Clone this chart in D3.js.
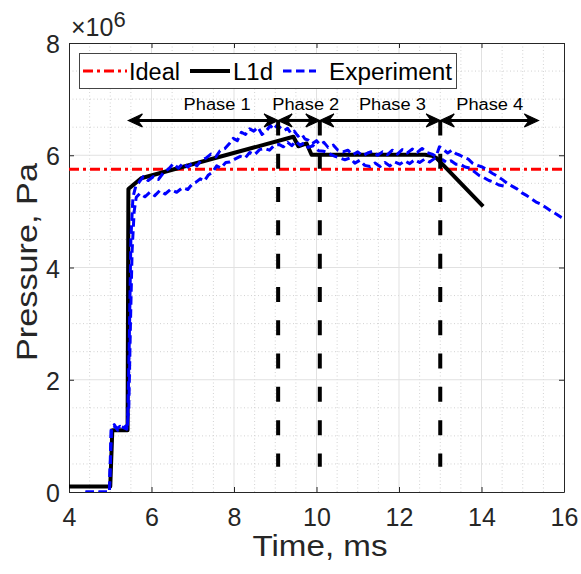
<!DOCTYPE html>
<html><head><meta charset="utf-8">
<script src="https://cdn.jsdelivr.net/npm/d3@7"></script>
<style>
html,body{margin:0;padding:0;background:#fff;}
svg{display:block;font-family:"Liberation Sans",Arial,Helvetica,sans-serif;}
</style></head><body>
<svg id="chart" width="581" height="574"></svg>
<script>
// Axis ticks
const xTicks = [4, 6, 8, 10, 12, 14, 16];
const yTicks = [0, 2, 4, 6, 8];
const minorStep = 0.5;

// Ideal pressure level (x10^6 Pa)
const idealPressure = 5.75;

// L1d model: [time ms, pressure x10^6 Pa]
const l1d = [
  [4.00, 0.10], [5.00, 0.10], [5.05, 1.10], [5.42, 1.10], [5.44, 5.40],
  [5.75, 5.59], [9.44, 6.33], [9.56, 6.16], [9.76, 6.21], [9.88, 6.01],
  [12.63, 6.01], [12.80, 5.99], [12.91, 5.95], [14.04, 5.09]
];

// Experiment, run A
const expA = [
  [4.40,0.00],[4.98,0.00],[5.02,1.10],[5.08,1.18],[5.16,1.13],[5.24,1.17],[5.32,1.14],[5.42,1.20],
  [5.46,2.60],[5.50,4.50],[5.55,5.25],[5.62,5.45],[5.70,5.52],[5.80,5.62],[5.92,5.55],[6.05,5.62],
  [6.17,5.57],[6.30,5.70],[6.42,5.76],[6.53,5.85],[6.65,5.77],[6.77,5.86],[6.88,5.79],[7.00,5.87],
  [7.10,5.81],[7.20,5.91],[7.32,5.95],[7.44,6.02],[7.56,5.97],[7.66,6.08],[7.78,6.12],[7.90,6.22],
  [7.98,6.30],[8.08,6.26],[8.18,6.41],[8.28,6.37],[8.38,6.47],[8.48,6.43],[8.58,6.50],[8.68,6.37],
  [8.79,6.44],[8.88,6.53],[8.96,6.46],[9.05,6.54],[9.14,6.48],[9.22,6.44],[9.30,6.48],[9.38,6.39],
  [9.46,6.43],[9.55,6.34],[9.64,6.38],[9.72,6.29],[9.80,6.27],[9.90,6.21],[10.00,6.26],[10.08,6.19],
  [10.18,6.23],[10.28,6.14],[10.41,6.18],[10.52,6.09],[10.64,6.06],[10.76,6.09],[10.88,6.01],[11.00,6.06],
  [11.12,5.99],[11.24,6.04],[11.36,6.07],[11.48,6.00],[11.60,6.06],[11.72,6.01],[11.84,6.09],[11.96,6.02],
  [12.08,6.10],[12.20,6.04],[12.32,6.11],[12.44,6.05],[12.56,6.12],[12.68,6.05],[12.80,6.02],[12.90,5.98],
  [12.98,6.15],[13.08,6.10],[13.18,6.04],[13.28,6.09],[13.38,6.03],[13.48,6.00],[13.58,5.96],[13.68,5.93],
  [13.78,5.86],[13.90,5.82],[14.02,5.79],[14.14,5.74],[14.26,5.68],[14.38,5.63],[14.50,5.57],[14.62,5.50],
  [14.74,5.45],[14.86,5.40],[14.98,5.33],[15.10,5.28],[15.22,5.22],[15.34,5.16],[15.46,5.12],[15.58,5.06],
  [15.70,5.00],[15.82,4.95],[15.94,4.89],[16.06,4.84]
];

// Experiment, run B
const expB = [
  [4.40,0.00],[4.98,0.00],[5.03,1.12],[5.10,1.20],[5.18,1.10],[5.28,1.16],[5.40,1.12],[5.45,1.50],
  [5.49,3.00],[5.53,4.30],[5.58,5.00],[5.63,5.25],[5.72,5.32],[5.84,5.26],[5.96,5.34],[6.08,5.28],
  [6.20,5.37],[6.33,5.31],[6.46,5.39],[6.61,5.34],[6.75,5.42],[6.88,5.39],[6.98,5.48],[7.08,5.52],
  [7.18,5.58],[7.28,5.54],[7.38,5.65],[7.48,5.70],[7.58,5.81],[7.68,5.77],[7.80,5.87],[7.90,5.88],
  [8.02,5.93],[8.15,5.98],[8.27,5.95],[8.38,6.05],[8.50,6.01],[8.62,6.10],[8.74,6.12],[8.86,6.09],
  [8.98,6.18],[9.10,6.19],[9.20,6.15],[9.30,6.23],[9.40,6.17],[9.50,6.25],[9.60,6.18],[9.70,6.22],
  [9.80,6.14],[9.92,6.17],[10.05,6.08],[10.18,6.07],[10.33,6.02],[10.45,5.98],[10.57,5.95],[10.69,5.92],
  [10.81,5.95],[10.93,5.86],[11.05,5.91],[11.17,5.82],[11.30,5.80],[11.42,5.86],[11.54,5.80],[11.66,5.87],
  [11.78,5.81],[11.90,5.88],[12.02,5.84],[12.14,5.90],[12.26,5.85],[12.38,5.92],[12.50,5.87],[12.62,5.93],
  [12.74,5.88],[12.86,5.94],[12.96,5.88],[13.06,5.92],[13.16,5.87],[13.26,5.90],[13.38,5.84],[13.48,5.84],
  [13.60,5.79],[13.72,5.77],[13.84,5.70],[13.94,5.64],[14.06,5.60],[14.18,5.55],[14.30,5.52],[14.42,5.47],
  [14.54,5.45]
];

// Phase annotations
const phaseBounds = [5.44, 9.07, 10.08, 13.0, 15.38];
const phaseNames = ["Phase 1", "Phase 2", "Phase 3", "Phase 4"];
const phaseLabelX = [7.59, 9.74, 11.84, 14.20];
const phaseLabelY = 6.80;
const arrowY = 6.62;
const dividerX = [9.07, 10.08, 13.0];
const dividerBottom = 0.45;

const legendNames = ["Ideal", "L1d", "Experiment"];

const axisColor = "#262626";
const svg = d3.select("#chart");
const x = d3.scaleLinear().domain([4, 16]).range([69, 564]);
const y = d3.scaleLinear().domain([0, 8]).range([492, 43]);
const [x0, x1] = x.range();
const [y0, y1] = y.range();

svg.append("defs").append("clipPath").attr("id", "plotClip")
  .append("rect").attr("x", x0).attr("y", y1).attr("width", x1 - x0).attr("height", y0 - y1);

// grid
const minorX = d3.range(4, 16.001, minorStep).filter(v => !xTicks.includes(v));
const minorY = d3.range(0, 8.001, minorStep).filter(v => !yTicks.includes(v));
const grid = svg.append("g");
grid.selectAll(".mx").data(minorX).join("line")
  .attr("x1", d => x(d)).attr("x2", d => x(d)).attr("y1", y0).attr("y2", y1)
  .attr("stroke", "#d2d2d2").attr("stroke-width", 1).attr("stroke-dasharray", "1,2.5");
grid.selectAll(".my").data(minorY).join("line")
  .attr("y1", d => y(d)).attr("y2", d => y(d)).attr("x1", x0).attr("x2", x1)
  .attr("stroke", "#d2d2d2").attr("stroke-width", 1).attr("stroke-dasharray", "1,2.5");
grid.selectAll(".gx").data(xTicks.slice(1, -1)).join("line")
  .attr("x1", d => x(d)).attr("x2", d => x(d)).attr("y1", y0).attr("y2", y1)
  .attr("stroke", "#e1e1e1").attr("stroke-width", 1);
grid.selectAll(".gy").data(yTicks.slice(1, -1)).join("line")
  .attr("y1", d => y(d)).attr("y2", d => y(d)).attr("x1", x0).attr("x2", x1)
  .attr("stroke", "#e1e1e1").attr("stroke-width", 1);

// axes with inward ticks on all four sides
function styleAxis(g) {
  g.selectAll("path.domain").attr("stroke", axisColor).attr("stroke-width", 1);
  g.selectAll(".tick line").attr("stroke", axisColor).attr("stroke-width", 1);
  g.selectAll("text").attr("fill", axisColor).attr("font-size", 25)
    .attr("font-family", "'Liberation Sans', Arial, sans-serif");
}
svg.append("g").attr("transform", `translate(0,${y0})`)
  .call(d3.axisBottom(x).tickValues(xTicks).tickSizeInner(-5).tickSizeOuter(0).tickPadding(16))
  .call(styleAxis);
svg.append("g").attr("transform", `translate(0,${y1})`)
  .call(d3.axisTop(x).tickValues(xTicks).tickSizeInner(-5).tickSizeOuter(0).tickFormat(""))
  .call(styleAxis);
svg.append("g").attr("transform", `translate(${x0},0)`)
  .call(d3.axisLeft(y).tickValues(yTicks).tickSizeInner(-5).tickSizeOuter(0).tickPadding(9))
  .call(styleAxis)
  .selectAll("text").attr("dy", "0.38em");
svg.append("g").attr("transform", `translate(${x1},0)`)
  .call(d3.axisRight(y).tickValues(yTicks).tickSizeInner(-5).tickSizeOuter(0).tickFormat(""))
  .call(styleAxis);

// exponent label
const expo = svg.append("text").attr("x", 71).attr("y", 36)
  .attr("font-size", 25).attr("fill", axisColor);
expo.append("tspan").text("\u00d710");
expo.append("tspan").attr("font-size", 22).attr("dy", -9).text("6");

// axis titles
svg.append("text").attr("transform", `translate(37,262) rotate(-90)`)
  .attr("text-anchor", "middle").attr("font-size", 30).attr("fill", axisColor)
  .attr("textLength", 198).attr("lengthAdjust", "spacingAndGlyphs")
  .text("Pressure, Pa");
svg.append("text").attr("x", 320).attr("y", 556)
  .attr("text-anchor", "middle").attr("font-size", 29).attr("fill", axisColor)
  .attr("textLength", 135).attr("lengthAdjust", "spacingAndGlyphs")
  .text("Time, ms");

// data
const plot = svg.append("g").attr("clip-path", "url(#plotClip)");
const line = d3.line().x(d => x(d[0])).y(d => y(d[1]));

plot.append("line").attr("x1", x0).attr("x2", x1)
  .attr("y1", y(idealPressure)).attr("y2", y(idealPressure))
  .attr("stroke", "#ff0000").attr("stroke-width", 3).attr("stroke-dasharray", "10,4,3,4");

plot.append("path").datum(l1d).attr("d", line)
  .attr("fill", "none").attr("stroke", "#000").attr("stroke-width", 4)
  .attr("stroke-linejoin", "round");

[expA, expB].forEach(run => {
  plot.append("path").datum(run).attr("d", line)
    .attr("fill", "none").attr("stroke", "#0000ff").attr("stroke-width", 3)
    .attr("stroke-dasharray", "8.5,4.5").attr("stroke-linejoin", "round");
});

// phase dividers
svg.append("g").selectAll("line").data(dividerX).join("line")
  .attr("x1", d => x(d)).attr("x2", d => x(d))
  .attr("y1", y(arrowY)).attr("y2", y(dividerBottom))
  .attr("stroke", "#000").attr("stroke-width", 4).attr("stroke-dasharray", "15,18.3");

// double-headed phase arrows
const arrows = svg.append("g");
function head(tx, ty, dir) {
  const L = 14, h = 6.5, n = 9;
  return `M${tx},${ty}L${tx - dir * L},${ty - h}L${tx - dir * n},${ty}L${tx - dir * L},${ty + h}Z`;
}
phaseNames.forEach((name, i) => {
  const a = x(phaseBounds[i]), b = x(phaseBounds[i + 1]), yy = y(arrowY);
  arrows.append("line").attr("x1", a + 8).attr("x2", b - 8).attr("y1", yy).attr("y2", yy)
    .attr("stroke", "#000").attr("stroke-width", 3);
  arrows.append("path").attr("d", head(a, yy, -1)).attr("fill", "#000")
    .attr("stroke", "#000").attr("stroke-width", 1.2).attr("stroke-linejoin", "miter");
  arrows.append("path").attr("d", head(b, yy, 1)).attr("fill", "#000")
    .attr("stroke", "#000").attr("stroke-width", 1.2).attr("stroke-linejoin", "miter");
  arrows.append("text").attr("x", x(phaseLabelX[i])).attr("y", y(phaseLabelY))
    .attr("text-anchor", "middle").attr("font-size", 16).attr("fill", "#000")
    .attr("textLength", 67).attr("lengthAdjust", "spacingAndGlyphs")
    .text(name);
});

// legend
const lg = svg.append("g");
lg.append("rect").attr("x", 79.5).attr("y", 53.5).attr("width", 377).attr("height", 35)
  .attr("fill", "#fff").attr("stroke", "#444").attr("stroke-width", 1);
const ly = 71, ty = 80;
lg.append("line").attr("x1", 83).attr("x2", 127).attr("y1", ly).attr("y2", ly)
  .attr("stroke", "#ff0000").attr("stroke-width", 3).attr("stroke-dasharray", "10,4,3,4");
lg.append("line").attr("x1", 190).attr("x2", 230).attr("y1", ly).attr("y2", ly)
  .attr("stroke", "#000").attr("stroke-width", 4);
lg.append("line").attr("x1", 283).attr("x2", 316).attr("y1", ly).attr("y2", ly)
  .attr("stroke", "#0000ff").attr("stroke-width", 3).attr("stroke-dasharray", "8.5,4.5");
const legendX = [129, 233, 329], legendW = [51, 40, 123];
legendNames.forEach((n, i) => {
  lg.append("text").attr("x", legendX[i]).attr("y", ty).attr("font-size", 23).attr("fill", "#000")
    .attr("textLength", legendW[i]).attr("lengthAdjust", "spacingAndGlyphs").text(n);
});
</script>
</body></html>
